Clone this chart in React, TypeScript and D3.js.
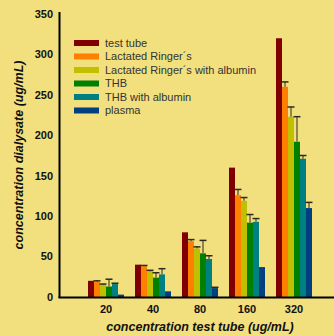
import * as d3 from 'd3';

const categories = ['20', '40', '80', '160', '320'];
const series = ['test tube', 'Lactated Ringer´s', 'Lactated Ringer´s with albumin', 'THB', 'THB with albumin', 'plasma'];
const colors = ['#800000', '#ff8000', '#c0c000', '#008000', '#008080', '#004080'];

// values per series, one per category
const values = [
  [20, 40, 80, 160, 320],
  [19, 38, 69, 126, 260],
  [15, 32, 60, 119, 223],
  [13, 24, 54, 92, 192],
  [16, 28, 47, 93, 171],
  [3, 7, 11, 37, 110],
];
// upper end of error bars (null = none)
const errTop = [
  [null, null, null, null, null],
  [20, 39, 71, 133, 266],
  [16, 33, 62, 123, 235],
  [22, 30, 70, 102, 223],
  [17, 35, 51, 97, 175],
  [null, null, 12, null, 117],
];
const yTicks = [0, 50, 100, 150, 200, 250, 300, 350];

export default function App() {
  const W = 334, H = 336;
  const y = d3.scaleLinear().domain([0, 350]).range([297, 14]);
  const x = d3.scalePoint<string>().domain(categories).range([106, 294]);
  const inner = d3.scaleBand<number>().domain(d3.range(series.length)).range([-18, 18]);
  const font = 'Arial, "Liberation Sans", sans-serif';

  return (
    <svg width={W} height={H} style={{ position: 'absolute', left: 0, top: 0, background: '#f2e07e' }} fontFamily={font}>
      <rect width={W} height={H} fill="#f2e07e" />
      {/* bars */}
      {values.map((row, s) =>
        row.map((v, c) => {
          const bx = x(categories[c])! + inner(s)!;
          return (
            <rect key={`b${s}-${c}`} x={bx} y={y(v)} width={inner.bandwidth()} height={y(0) - y(v)} fill={colors[s]} />
          );
        })
      )}
      {/* error bars */}
      {errTop.map((row, s) =>
        row.map((e, c) => {
          if (e == null) return null;
          const cx = x(categories[c])! + inner(s)! + inner.bandwidth() / 2;
          return (
            <g key={`e${s}-${c}`}>
              <line x1={cx} x2={cx} y1={y(values[s][c])} y2={y(e)} stroke="#6e6640" strokeWidth={1.5} />
              <line x1={cx - 3.5} x2={cx + 3.5} y1={y(e)} y2={y(e)} stroke="#2a2a20" strokeWidth={1.5} />
            </g>
          );
        })
      )}
      {/* axes */}
      <line x1={59.5} x2={59.5} y1={12} y2={298} stroke="#000" strokeWidth={2} />
      <line x1={58.5} x2={W} y1={297.5} y2={297.5} stroke="#000" strokeWidth={2} />
      {yTicks.map(t => (
        <text key={t} x={53} y={y(t)} dy="0.35em" textAnchor="end" fontSize={11} fontWeight="bold" fill="#111">{t}</text>
      ))}
      {categories.map(c => (
        <text key={c} x={x(c)} y={313} textAnchor="middle" fontSize={11} fontWeight="bold" fill="#111">{c}</text>
      ))}
      <text x={200} y={331} textAnchor="middle" fontSize={12.5} fontWeight="bold" fontStyle="italic" fill="#111">
        concentration test tube (ug/mL)
      </text>
      <text transform="translate(23,155) rotate(-90)" textAnchor="middle" fontSize={12.5} fontWeight="bold" fontStyle="italic" fill="#111">
        concentration dialysate (ug/mL)
      </text>
      {/* legend */}
      {series.map((name, i) => (
        <g key={name} transform={`translate(74,${43 + i * 13.5})`}>
          <rect x={0} y={-3} width={25} height={6} fill={colors[i]} />
          <text x={31} y={0} dy="0.35em" fontSize={11} fill="#333">{name}</text>
        </g>
      ))}
    </svg>
  );
}
